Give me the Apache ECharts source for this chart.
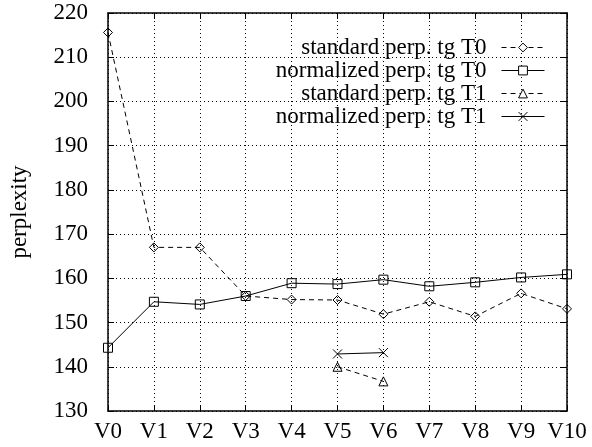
<!DOCTYPE html>
<html><head><meta charset="utf-8">
<script src="https://cdn.jsdelivr.net/npm/echarts@6/dist/echarts.min.js"></script>
<style>html,body{margin:0;padding:0;background:#fff}#c{width:592px;height:447px}</style>
</head><body><div id="c"></div>
<script>
const categories = ['V0','V1','V2','V3','V4','V5','V6','V7','V8','V9','V10'];
const stdT0  = [215.6, 167.0, 167.0, 156.0, 155.2, 155.1, 151.9, 154.7, 151.4, 156.6, 153.1];
const normT0 = [144.3, 154.7, 154.1, 156.0, 158.9, 158.7, 159.7, 158.2, 159.1, 160.2, 160.9];
const stdT1  = [null, null, null, null, null, 140.0, 136.7, null, null, null, null];
const normT1 = [null, null, null, null, null, 142.9, 143.2, null, null, null, null];
const yTicks = [130, 140, 150, 160, 170, 180, 190, 200, 210, 220];
const names = ['standard perp. tg T0','normalized perp. tg T0','standard perp. tg T1','normalized perp. tg T1'];

const FONT = '"Liberation Serif", "Times New Roman", serif';
const FS = 23;
const chart = echarts.init(document.getElementById('c'), null, {renderer:'canvas'});
const dotted = {type:[1,3], color:'#000', width:1};
function mk(name, data, symbol, dashed, size){
  return {
    name, type:'line', data, symbol, symbolSize:size, showSymbol:true,
    lineStyle:{color:'#000', width:1, type: dashed ? [5,4] : 'solid'},
    itemStyle:{color:'rgba(255,255,255,0)', borderColor:'#000', borderWidth:1},
    emphasis:{disabled:true}, animation:false, z: 3
  };
}
const xPath = 'path://M0,0L10,10M10,0L0,10';
chart.setOption({
  animation:false,
  backgroundColor:'#fff',
  textStyle:{fontFamily:FONT},
  grid:{left:108, right:25, top:13, bottom:36, containLabel:false},
  legend:{
    orient:'vertical', right:42, top:31, align:'right',
    itemWidth:43, itemHeight:11, itemGap:0,
    itemStyle:{color:'#fff', borderColor:'#000', borderWidth:1},
    lineStyle:{width:1, color:'#000'},
    textStyle:{fontFamily:FONT, fontSize:FS, color:'#000', padding:[0,10,0,0]},
    data:names
  },
  xAxis:[{
    type:'category', data:categories, boundaryGap:false,
    axisLine:{lineStyle:{color:'#000', width:1.5}},
    axisTick:{inside:true, length:6, lineStyle:{color:'#000'}},
    axisLabel:{fontFamily:FONT, fontSize:FS, color:'#000', margin:9, interval:0},
    splitLine:{show:true, lineStyle:dotted}
  },{
    type:'category', data:categories, boundaryGap:false, position:'top',
    axisLine:{lineStyle:{color:'#000', width:1.5}},
    axisTick:{inside:true, length:6, lineStyle:{color:'#000'}},
    axisLabel:{show:false}, splitLine:{show:false}
  }],
  yAxis:[{
    type:'value', min:yTicks[0], max:yTicks[yTicks.length-1], interval:10,
    name:'perplexity', nameLocation:'middle', nameGap:77, nameRotate:90,
    nameTextStyle:{fontFamily:FONT, fontSize:FS, color:'#000'},
    axisLine:{show:true, lineStyle:{color:'#000', width:1.5}},
    axisTick:{show:true, inside:true, length:6, lineStyle:{color:'#000'}},
    axisLabel:{fontFamily:FONT, fontSize:FS, color:'#000', margin:20},
    splitLine:{show:true, lineStyle:dotted}
  },{
    type:'value', min:yTicks[0], max:yTicks[yTicks.length-1], interval:10, position:'right',
    axisLine:{show:true, lineStyle:{color:'#000', width:1.5}},
    axisTick:{show:true, inside:true, length:6, lineStyle:{color:'#000'}},
    axisLabel:{show:false}, splitLine:{show:false}
  }],
  series:[
    mk(names[0], stdT0, 'diamond', true, 9),
    mk(names[1], normT0, 'rect', false, 9),
    mk(names[2], stdT1, 'triangle', true, 9),
    mk(names[3], normT1, xPath, false, 9)
  ]
});
</script></body></html>
